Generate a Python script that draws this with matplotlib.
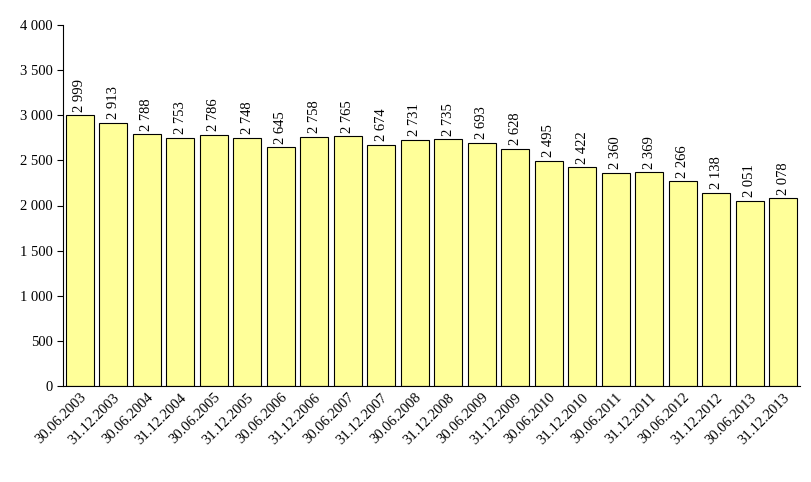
import matplotlib
matplotlib.use("Agg")
import matplotlib.pyplot as plt

dates = ["30.06.2003","31.12.2003","30.06.2004","31.12.2004","30.06.2005","31.12.2005",
         "30.06.2006","31.12.2006","30.06.2007","31.12.2007","30.06.2008","31.12.2008",
         "30.06.2009","31.12.2009","30.06.2010","31.12.2010","30.06.2011","31.12.2011",
         "30.06.2012","31.12.2012","30.06.2013","31.12.2013"]
values = [2999,2913,2788,2753,2786,2748,2645,2758,2765,2674,2731,2735,2693,2628,
          2495,2422,2360,2369,2266,2138,2051,2078]

plt.rcParams['font.family'] = ['Liberation Serif', 'DejaVu Serif']
fig = plt.figure(figsize=(8.11, 4.82), dpi=100)
ax = fig.add_axes([63/811, 1-386/482, (800-63)/811, (386-25)/482])
x = range(len(values))
ax.bar(x, values, width=0.84, color='#FFFF99', edgecolor='black', linewidth=0.8)
fmt = lambda v: f"{int(v):,}".replace(",", " ")
for i, v in zip(x, values):
    ax.text(i, v + 40, fmt(v), rotation=90, ha='center', va='bottom', fontsize=10.5)
ax.set_xlim(-0.5, len(values) - 0.5)
ax.set_ylim(0, 4000)
ax.set_yticks(range(0, 4001, 500))
ax.set_yticklabels([fmt(t) for t in range(0, 4001, 500)], fontsize=10.5)
ax.set_xticks(list(x))
ax.set_xticklabels(dates, rotation=45, ha='right', rotation_mode='anchor', fontsize=10.5)
ax.spines['top'].set_visible(False)
ax.spines['right'].set_visible(False)
ax.tick_params(axis='x', length=0)
ax.tick_params(axis='y', direction='out', length=4)
fig.savefig("out.png", dpi=100)
